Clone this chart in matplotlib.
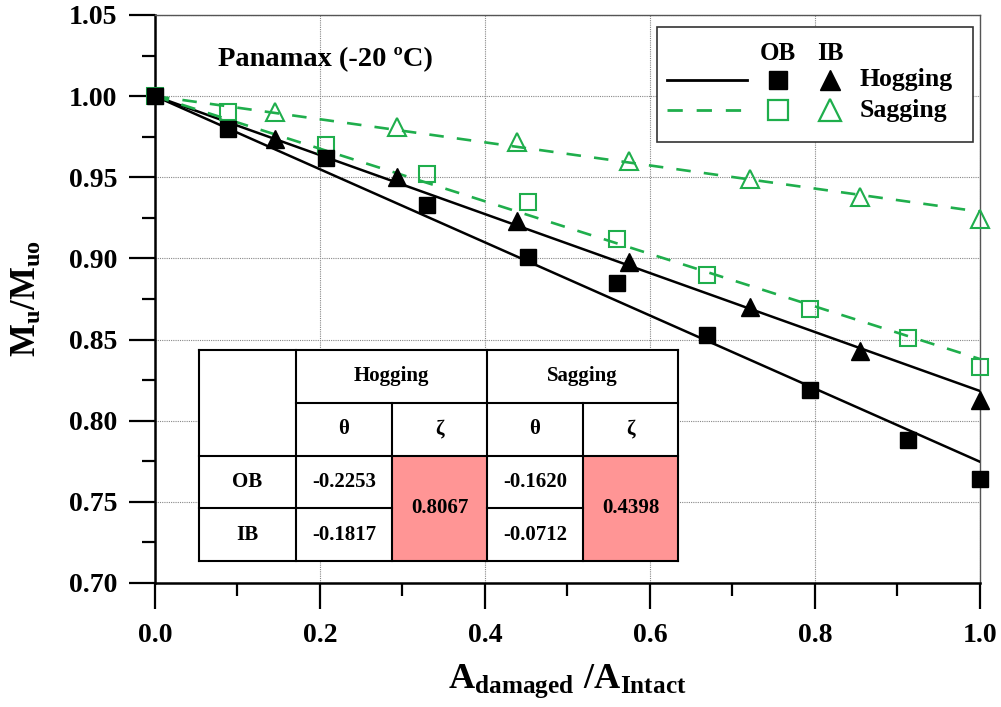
import numpy as np
import matplotlib
matplotlib.use("Agg")
import matplotlib.pyplot as plt
from matplotlib.patches import Rectangle

plt.rcParams['font.family'] = ['Liberation Serif', 'DejaVu Serif']
plt.rcParams['font.weight'] = 'bold'
plt.rcParams['mathtext.fontset'] = 'custom'
plt.rcParams['mathtext.rm'] = 'Liberation Serif:bold'
plt.rcParams['mathtext.bf'] = 'Liberation Serif:bold'
plt.rcParams['mathtext.it'] = 'Liberation Serif:bold'

# damaged area ratio for outer-bottom (OB) and inner-bottom (IB) cases
x_ob = [0.0, 0.088, 0.207, 0.330, 0.452, 0.560, 0.669, 0.794, 0.913, 1.0]
x_ib = [0.145, 0.293, 0.439, 0.575, 0.721, 0.855, 1.0]

# Mu/Muo results
hog_ob = [1.000, 0.980, 0.962, 0.933, 0.901, 0.885, 0.853, 0.819, 0.788, 0.764]
sag_ob = [1.000, 0.990, 0.970, 0.952, 0.935, 0.912, 0.890, 0.869, 0.851, 0.833]
hog_ib = [0.9735, 0.950, 0.923, 0.898, 0.870, 0.843, 0.813]
sag_ib = [0.990, 0.981, 0.972, 0.960, 0.949, 0.938, 0.924]

# regression coefficients (Mu/Muo = 1 + theta * A ratio)
theta_hog = {'OB': -0.2253, 'IB': -0.1817}
theta_sag = {'OB': -0.1620, 'IB': -0.0712}
zeta_hog = 0.8067
zeta_sag = 0.4398

GREEN = '#1fae4c'
PINK = '#ff9595'

fig = plt.figure(figsize=(10.01, 7.07), dpi=100)
ax = fig.add_axes([0.1548, 0.1754, 0.8242, 0.8034])

xfit = np.array([0.0, 1.0])
dash = (0, (5.5, 5))
ax.plot(xfit, 1 + theta_hog['OB'] * xfit, color='black', lw=1.8, zorder=3)
ax.plot(xfit, 1 + theta_hog['IB'] * xfit, color='black', lw=1.8, zorder=3)
ax.plot(xfit, 1 + theta_sag['OB'] * xfit, color=GREEN, lw=1.9, ls=dash, zorder=3)
ax.plot(xfit, 1 + theta_sag['IB'] * xfit, color=GREEN, lw=1.9, ls=dash, zorder=3)

ax.plot(x_ob, sag_ob, ls='none', marker='s', ms=12, mfc='none', mec=GREEN, mew=1.5,
        zorder=4, clip_on=False)
ax.plot(x_ib, sag_ib, ls='none', marker='^', ms=13, mfc='none', mec=GREEN, mew=1.5,
        zorder=4, clip_on=False)
ax.plot(x_ob, hog_ob, ls='none', marker='s', ms=11, color='black', zorder=5, clip_on=False)
ax.plot(x_ib, hog_ib, ls='none', marker='^', ms=13, color='black', zorder=5, clip_on=False)

ax.set_xlim(0, 1.0)
ax.set_ylim(0.70, 1.05)
ax.set_xticks(np.arange(0, 1.01, 0.2))
ax.set_xticks(np.arange(0.1, 1.0, 0.2), minor=True)
ax.set_yticks(np.arange(0.70, 1.051, 0.05))
ax.set_yticks(np.arange(0.725, 1.05, 0.05), minor=True)
ax.xaxis.set_major_formatter(plt.FormatStrFormatter('%.1f'))
ax.yaxis.set_major_formatter(plt.FormatStrFormatter('%.2f'))
ax.tick_params(which='major', direction='out', length=19, width=1.6, labelsize=20, pad=8)
ax.tick_params(which='minor', direction='out', length=9.5, width=1.6)
ax.tick_params(axis='x', which='major', pad=10)
for lab in ax.get_xticklabels() + ax.get_yticklabels():
    lab.set_fontweight('bold')

ax.grid(True, which='major', color='#888888', ls=(0, (1, 1)), lw=0.8)
ax.set_axisbelow(True)
for side in ['left', 'bottom']:
    ax.spines[side].set_linewidth(1.8)
for side in ['top', 'right']:
    ax.spines[side].set_linewidth(1.0)
    ax.spines[side].set_color('#555555')

ax.set_xlabel(r'$\mathrm{A_{damaged}\ /A_{Intact}}$', fontsize=26, labelpad=10)
ax.set_ylabel(r'$\mathrm{M_u/M_{uo}}$', fontsize=25, labelpad=18)

ax.text(0.207, 0.922, 'Panamax (-20 ºC)', transform=ax.transAxes, fontsize=20.5,
        fontweight='bold', ha='center', va='center')

# legend box
T = ax.transAxes
ax.add_patch(Rectangle((0.6085, 0.7764), 0.383, 0.2025, transform=T, facecolor='white',
                       edgecolor='#333333', lw=1.2, zorder=6))
ax.text(0.7552, 0.9320, 'OB', transform=T, fontsize=18, ha='center', va='center', zorder=7)
ax.text(0.8182, 0.9320, 'IB', transform=T, fontsize=18, ha='center', va='center', zorder=7)
ax.plot([0.6206, 0.7176], [0.8856, 0.8856], transform=T, color='black', lw=2.0, zorder=7)
ax.plot([0.6206, 0.7176], [0.8327, 0.8327], transform=T, color=GREEN, lw=2.0, ls=dash, zorder=7)
ax.plot([0.7552], [0.8856], transform=T, marker='s', ms=13, color='black', zorder=7)
ax.plot([0.8182], [0.8856], transform=T, marker='^', ms=15, color='black', zorder=7)
ax.plot([0.7552], [0.8327], transform=T, marker='s', ms=14, mfc='none', mec=GREEN, mew=1.6, zorder=7)
ax.plot([0.8182], [0.8327], transform=T, marker='^', ms=16, mfc='none', mec=GREEN, mew=1.6, zorder=7)
ax.text(0.8545, 0.8856, 'Hogging', transform=T, fontsize=18.5, ha='left', va='center', zorder=7)
ax.text(0.8545, 0.8327, 'Sagging', transform=T, fontsize=18.5, ha='left', va='center', zorder=7)

# coefficient table
cx = [0.0533, 0.1709, 0.2873, 0.4024, 0.5188, 0.6339]
cy = [0.4102, 0.3169, 0.2236, 0.1320, 0.0387]
ax.add_patch(Rectangle((cx[0], cy[4]), cx[5] - cx[0], cy[0] - cy[4], transform=T,
                       facecolor='white', edgecolor='none', zorder=6))
for c in (2, 4):
    ax.add_patch(Rectangle((cx[c], cy[4]), cx[c + 1] - cx[c], cy[2] - cy[4], transform=T,
                           facecolor=PINK, edgecolor='none', zorder=6))
segs = [
    ([cx[0], cx[5]], [cy[0], cy[0]]), ([cx[0], cx[5]], [cy[4], cy[4]]),
    ([cx[0], cx[0]], [cy[0], cy[4]]), ([cx[5], cx[5]], [cy[0], cy[4]]),
    ([cx[1], cx[1]], [cy[0], cy[4]]), ([cx[3], cx[3]], [cy[0], cy[4]]),
    ([cx[2], cx[2]], [cy[1], cy[4]]), ([cx[4], cx[4]], [cy[1], cy[4]]),
    ([cx[1], cx[5]], [cy[1], cy[1]]), ([cx[0], cx[5]], [cy[2], cy[2]]),
    ([cx[0], cx[2]], [cy[3], cy[3]]), ([cx[3], cx[4]], [cy[3], cy[3]]),
]
for xs, ys in segs:
    ax.plot(xs, ys, transform=T, color='black', lw=1.5, zorder=7, solid_capstyle='projecting')


def cell(text, c0, c1, r0, r1, size=15):
    ax.text((cx[c0] + cx[c1]) / 2, (cy[r0] + cy[r1]) / 2, text, transform=T, fontsize=size,
            ha='center', va='center', fontweight='bold', zorder=8)


cell('Hogging', 1, 3, 0, 1)
cell('Sagging', 3, 5, 0, 1)
for c, s in zip([1, 2, 3, 4], ['θ', 'ζ', 'θ', 'ζ']):
    cell(s, c, c + 1, 1, 2)
cell('OB', 0, 1, 2, 3)
cell('IB', 0, 1, 3, 4)
cell('%.4f' % theta_hog['OB'], 1, 2, 2, 3)
cell('%.4f' % theta_hog['IB'], 1, 2, 3, 4)
cell('%.4f' % theta_sag['OB'], 3, 4, 2, 3)
cell('%.4f' % theta_sag['IB'], 3, 4, 3, 4)
cell('%.4f' % zeta_hog, 2, 3, 2, 4)
cell('%.4f' % zeta_sag, 4, 5, 2, 4)

fig.savefig('out.png', dpi=100)
